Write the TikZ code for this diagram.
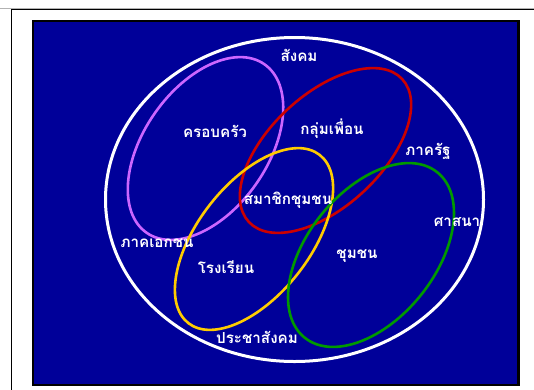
\documentclass[tikz,border=0pt]{standalone}
\usepackage{fontspec}
\newfontfamily\thaifont[Script=Thai]{Loma}
\definecolor{bgblue}{RGB}{0,0,153}
\definecolor{epurple}{RGB}{204,102,255}
\definecolor{ered}{RGB}{204,0,0}
\definecolor{eyellow}{RGB}{255,204,0}
\definecolor{egreen}{RGB}{0,153,0}
\begin{document}
\begin{tikzpicture}[x=1pt,y=-1pt,
  lbl/.style={text=white,font=\thaifont\bfseries\fontsize{15.2}{17}\selectfont,inner sep=0pt},
  ring/.style={line width=2.6pt}]
\useasboundingbox (0,0) rectangle (534,389);
% outer frame
\draw[gray!60,line width=0.8pt] (0,8) -- (534,8);
\draw[black,line width=1.6pt] (11.5,400) -- (11.5,9.5) -- (540,9.5);
% blue panel
\fill[black] (31.5,19.5) rectangle (520,386);
\fill[bgblue] (34,21.5) rectangle (517,383.5);
% society ellipse
\draw[white,line width=3pt] (294.5,199.5) ellipse [x radius=189pt, y radius=162pt];
% coloured ellipses
\draw[ring,epurple,rotate around={55:(205.5,148.5)}] (205.5,148.5) ellipse [x radius=102.8pt, y radius=61.8pt];
\draw[ring,ered,rotate around={43:(325.5,150.5)}] (325.5,150.5) ellipse [x radius=104.8pt, y radius=56pt];
\draw[ring,eyellow,rotate around={52:(254,239)}] (254,239) ellipse [x radius=106.7pt, y radius=55.9pt];
\draw[ring,egreen,rotate around={51.3:(371,255)}] (371,255) ellipse [x radius=106pt, y radius=64pt];
% labels
\node[lbl] (sangkhom) at (299,55) {สังคม};
\node[lbl] (khrobkhrua) at (215,131) {ครอบครัว};
\node[lbl] (klumphuean) at (332,129) {กลุ่มเพื่อน};
\node[lbl] (phakrat) at (428,151) {ภาครัฐ};
\node[lbl] (samachik) at (288,200) {สมาชิกชุมชน};
\node[lbl] (satsana) at (457,222) {ศาสนา};
\node[lbl] (phakekkachon) at (157,243) {ภาคเอกชน};
\node[lbl] (rongrian) at (226,267) {โรงเรียน};
\node[lbl] (chumchon) at (357,256) {ชุมชน};
\node[lbl] (prachasangkhom) at (257,337) {ประชาสังคม};
\end{tikzpicture}
\end{document}
